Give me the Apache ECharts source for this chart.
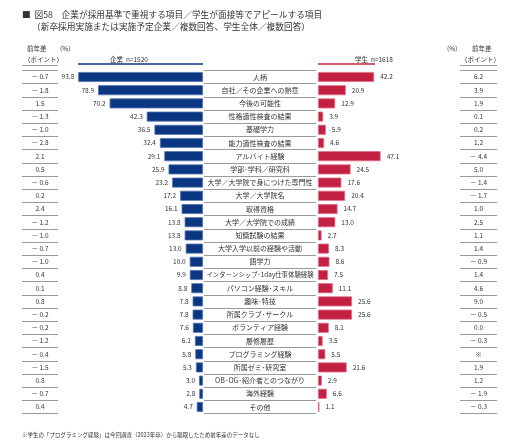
<!DOCTYPE html>
<html><head><meta charset="utf-8">
<script src="https://cdn.jsdelivr.net/npm/echarts@6/dist/echarts.min.js"></script>
<style>html,body{margin:0;padding:0;background:#fff}#c{width:512px;height:446px}</style>
</head><body><div id="c"></div>
<script>
const categories = ['人柄','自社／その企業への熱意','今後の可能性','性格適性検査の結果','基礎学力','能力適性検査の結果','アルバイト経験','学部･学科／研究科','大学／大学院で身につけた専門性','大学／大学院名','取得資格','大学／大学院での成績','知識試験の結果','大学入学以前の経験や活動','語学力','インターンシップ･1day仕事体験経験','パソコン経験･スキル','趣味･特技','所属クラブ･サークル','ボランティア経験','履修履歴','プログラミング経験','所属ゼミ･研究室','OB･OG･紹介者とのつながり','海外経験','その他'];
const companyValues = [93.8,78.9,70.2,42.3,36.5,32.4,29.1,25.9,23.2,17.2,16.1,13.8,13.8,13.0,10.0,9.9,8.8,7.8,7.8,7.6,6.1,5.8,5.3,3.0,2.8,4.7];
const studentValues = [42.2,20.9,12.9,3.9,5.9,4.6,47.1,24.5,17.6,20.4,14.7,13.0,2.7,8.3,8.6,7.5,11.1,25.6,25.6,8.1,3.5,5.5,21.6,2.9,6.6,1.1];
const companyDiff = [-0.7,-1.8,1.5,-1.3,-1.0,-2.8,2.1,0.5,-0.6,0.2,2.4,-1.2,-1.0,-0.7,-1.0,0.4,0.1,0.8,-0.2,-0.2,-1.2,-0.4,-1.5,0.8,-0.7,0.4];
const studentDiff = [6.2,3.9,1.9,0.1,0.2,1.2,-4.4,5.0,-1.4,-1.7,1.0,2.5,1.1,1.4,-0.9,1.4,4.6,9.0,-0.5,0.0,-0.3,null,1.9,1.2,-1.9,-0.3];
const companyHeader = '企業  n=1520';
const studentHeader = '学生  n=1618';

const FONT = '"Noto Sans CJK JP", "Noto Sans", sans-serif';
const fmtDiff = v => v === null ? '※' : (v < 0 ? '－ ' + Math.abs(v).toFixed(1) : v.toFixed(1));

const ctx = document.createElement('canvas').getContext('2d');
function fitSize(text, base, maxW) {
  ctx.font = base + 'px ' + FONT;
  const w = ctx.measureText(text).width;
  return w > maxW ? Math.floor(base * maxW / w * 10) / 10 : base;
}

const TOP = 70.4, H = 343.2;
const grids = [
  {left: 22, width: 36},
  {left: 70, width: 133},
  {left: 204, width: 112},
  {left: 318, width: 133},
  {left: 460, width: 37}
].map(g => ({left: g.left, width: g.width, top: TOP, height: H}));

const tableCols = [0, 2, 4];
const yAxes = grids.map((g, i) => ({
  type: 'category', gridIndex: i, data: categories, inverse: true,
  axisLine: {show: false}, axisTick: {show: false}, axisLabel: {show: false},
  splitLine: {show: tableCols.includes(i), interval: 0, lineStyle: {color: '#9a9a9a', width: 1}}
}));
const xAxes = grids.map((g, i) => {
  const isBar = (i === 1 || i === 3);
  return {type: 'value', gridIndex: i, min: 0, max: isBar ? 100 : 1, inverse: i === 1, show: false};
});

const textCol = (idx, fn, size, fit) => ({
  type: 'bar', xAxisIndex: idx, yAxisIndex: idx, silent: true,
  data: categories.map((c, i) => fit ? {value: 1, label: {fontSize: fitSize(fn(i), size, fit)}} : 1),
  barWidth: '100%',
  itemStyle: {color: 'rgba(0,0,0,0)'},
  label: {show: true, position: 'inside', formatter: p => fn(p.dataIndex), color: '#333', fontSize: size, fontFamily: FONT}
});

const option = {
  animation: false,
  grid: grids, xAxis: xAxes, yAxis: yAxes,
  series: [
    textCol(0, i => fmtDiff(companyDiff[i]), 6.5),
    {type: 'bar', xAxisIndex: 1, yAxisIndex: 1, data: companyValues, barWidth: 10, silent: true,
     itemStyle: {color: '#0b3681', borderColor: '#5776b0', borderWidth: 0.8},
     label: {show: true, position: 'left', distance: 4, formatter: p => p.value.toFixed(1), color: '#333', fontSize: 6.5, fontFamily: FONT}},
    textCol(2, i => categories[i], 7, 108),
    {type: 'bar', xAxisIndex: 3, yAxisIndex: 3, data: studentValues, barWidth: 10, silent: true,
     itemStyle: {color: '#c32141', borderColor: '#e07088', borderWidth: 0.8},
     label: {show: true, position: 'right', distance: 6, formatter: p => p.value.toFixed(1), color: '#333', fontSize: 6.5, fontFamily: FONT}},
    textCol(4, i => fmtDiff(studentDiff[i]), 6.5)
  ],
  graphic: [
    {type: 'text', left: 22, top: 10, style: {text: '■  図58　企業が採用基準で重視する項目／学生が面接等でアピールする項目', font: '8.7px ' + FONT, fill: '#333'}},
    {type: 'text', left: 32, top: 22, style: {text: '（新卒採用実施または実施予定企業／複数回答、学生全体／複数回答）', font: '8.7px ' + FONT, fill: '#333'}},
    {type: 'text', left: 27, top: 45, style: {text: '前年差', font: '6.5px ' + FONT, fill: '#333'}},
    {type: 'text', left: 24, top: 56, style: {text: '（ポイント）', font: '6.5px ' + FONT, fill: '#333'}},
    {type: 'line', shape: {x1: 22, y1: 65.5, x2: 58, y2: 65.5}, style: {stroke: '#9a9a9a', lineWidth: 1}},
    {type: 'text', left: 60, top: 45, style: {text: '(%)', font: '6.5px ' + FONT, fill: '#333'}},
    {type: 'text', left: 110, top: 56, style: {text: companyHeader, font: '6.5px ' + FONT, fill: '#333'}},
    {type: 'line', shape: {x1: 78, y1: 64, x2: 203, y2: 64}, style: {stroke: '#0b3681', lineWidth: 1.5}},
    {type: 'text', left: 355, top: 56, style: {text: studentHeader, font: '6.5px ' + FONT, fill: '#333'}},
    {type: 'line', shape: {x1: 318, y1: 64, x2: 375, y2: 64}, style: {stroke: '#c32141', lineWidth: 1.5}},
    {type: 'text', left: 447, top: 45, style: {text: '(%)', font: '6.5px ' + FONT, fill: '#333'}},
    {type: 'text', left: 472, top: 45, style: {text: '前年差', font: '6.5px ' + FONT, fill: '#333'}},
    {type: 'text', left: 461, top: 56, style: {text: '（ポイント）', font: '6.5px ' + FONT, fill: '#333'}},
    {type: 'line', shape: {x1: 460, y1: 65.5, x2: 497, y2: 65.5}, style: {stroke: '#9a9a9a', lineWidth: 1}},
    {type: 'text', left: 22, top: 432, style: {text: '※学生の「プログラミング経験」は今回調査（2023年卒）から聴取したため前年差のデータなし', font: '5.5px ' + FONT, fill: '#333'}}
  ]
};
echarts.init(document.getElementById('c'), null, {renderer: 'canvas'}).setOption(option);
</script>
</body></html>
